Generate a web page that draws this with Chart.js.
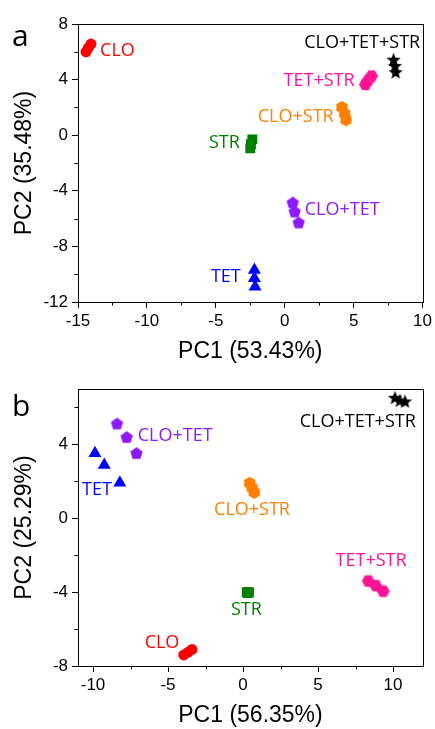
<!DOCTYPE html>
<html>
<head>
<meta charset="utf-8">
<script src="https://cdn.jsdelivr.net/npm/chart.js@4/dist/chart.umd.min.js"></script>
<style>
  body { margin: 0; background: #fff; width: 435px; height: 729px; position: relative; overflow: hidden; }
  .wrap { position: absolute; left: 0; width: 435px; }
  .tag { position: absolute; left: 12px; font-family: "Open Sans"; font-size: 30px; line-height: 1; color: #000; }
</style>
</head>
<body>
<div class="wrap" style="top:0;height:365px"><canvas id="chartA" width="435" height="365"></canvas></div>
<div class="wrap" style="top:365px;height:364px"><canvas id="chartB" width="435" height="364"></canvas></div>
<div class="tag" style="top:20px">a</div>
<div class="tag" style="top:390px">b</div>
<script>
// ---- panel a : score points (PC1, PC2) ----
const aCLO = [{x: -14.42, y: 6.0}, {x: -14.25, y: 6.28}, {x: -14.06, y: 6.56}];
const aSTR = [{x: -2.35, y: -0.3}, {x: -2.45, y: -0.65}, {x: -2.5, y: -0.95}];
const aTET = [{x: -2.2, y: -9.7}, {x: -2.2, y: -10.3}, {x: -2.15, y: -10.9}];
const aCLOSTR = [{x: 4.15, y: 2.0}, {x: 4.35, y: 1.55}, {x: 4.45, y: 1.1}];
const aCLOTET = [{x: 0.58, y: -4.88}, {x: 0.72, y: -5.53}, {x: 1.01, y: -6.32}];
const aTETSTR = [{x: 5.85, y: 3.65}, {x: 6.05, y: 3.95}, {x: 6.3, y: 4.25}];
const aALL = [{x: 7.9, y: 5.4}, {x: 8.0, y: 4.95}, {x: 8.05, y: 4.5}];

// ---- panel b ----
const bCLO = [{x: -3.95, y: -7.4}, {x: -3.65, y: -7.25}, {x: -3.4, y: -7.1}];
const bSTR = [{x: 0.25, y: -4.0}, {x: 0.33, y: -4.05}, {x: 0.4, y: -4.0}];
const bTET = [{x: -9.87, y: 3.52}, {x: -9.25, y: 2.88}, {x: -8.21, y: 1.92}];
const bCLOSTR = [{x: 0.45, y: 1.9}, {x: 0.6, y: 1.65}, {x: 0.75, y: 1.4}];
const bCLOTET = [{x: -8.4, y: 5.1}, {x: -7.75, y: 4.37}, {x: -7.1, y: 3.5}];
const bTETSTR = [{x: 8.35, y: -3.4}, {x: 8.85, y: -3.65}, {x: 9.35, y: -3.95}];
const bALL = [{x: 10.13, y: 6.5}, {x: 10.46, y: 6.35}, {x: 10.8, y: 6.3}];

// group names and label anchors (data units)
const groupNames = ['CLO', 'STR', 'TET', 'CLO+STR', 'CLO+TET', 'TET+STR', 'CLO+TET+STR'];
const aLabelX = [-13.4, -3.26, -3.19, 3.55, 1.45, 5.07, 5.62];
const aLabelY = [6.1, -0.56, -10.2, 1.3, -5.4, 3.9, 6.63];
const aLabelAlign = ['left', 'right', 'right', 'right', 'left', 'right', 'center'];
const bLabelX = [-5.4, 0.23, -10.73, 0.6, -7.02, 8.54, 11.52];
const bLabelY = [-6.77, -4.96, 1.55, 0.45, 4.48, -2.32, 5.2];
const bLabelAlign = ['center', 'center', 'left', 'center', 'left', 'center', 'right'];

// axes
const aXRange = [-15, 10];
const aYRange = [-12, 8];
const aXTicks = [-15, -10, -5, 0, 5, 10];
const aYTicks = [-12, -8, -4, 0, 4, 8];
const aXMinor = [-12.5, -7.5, -2.5, 2.5, 7.5];
const aYMinor = [-10, -6, -2, 2, 6];
const bXRange = [-11, 12];
const bYRange = [-8, 7];
const bXTicks = [-10, -5, 0, 5, 10];
const bYTicks = [-8, -4, 0, 4];
const bXMinor = [-7.5, -2.5, 2.5, 7.5];
const bYMinor = [-6, -2, 2, 6];

const colors = ['#ff0000', '#008000', '#0000ff', '#ff8000', '#8c1aff', '#ff1493', '#000000'];

// custom marker images
function polyImg(color, sides, r, rot, inner) {
  const c = document.createElement('canvas');
  const s = Math.ceil(r * 2 + 2);
  c.width = s; c.height = s;
  const g = c.getContext('2d');
  g.fillStyle = color;
  g.beginPath();
  const n = inner ? sides * 2 : sides;
  for (let i = 0; i < n; i++) {
    const rr = inner && i % 2 ? inner : r;
    const a = rot + i * Math.PI * 2 / n;
    const px = s / 2 + rr * Math.sin(a);
    const py = s / 2 - rr * Math.cos(a);
    if (i === 0) g.moveTo(px, py); else g.lineTo(px, py);
  }
  g.closePath();
  g.fill();
  return c;
}

const styles = [
  {pointStyle: 'circle', radius: 5.5},
  {pointStyle: 'rect', radius: 7},
  {pointStyle: 'triangle', radius: 7.5},
  {pointStyle: polyImg(colors[3], 6, 6.5, 0), radius: 6},
  {pointStyle: polyImg(colors[4], 5, 6.5, 0), radius: 6},
  {pointStyle: polyImg(colors[5], 6, 6.5, Math.PI / 6), radius: 6},
  {pointStyle: polyImg(colors[6], 5, 7.5, 0, 3.2), radius: 6}
];

const framePlugin = {
  id: 'frame',
  afterDraw(chart, args, opts) {
    const {ctx, chartArea: ca, scales} = chart;
    ctx.save();
    ctx.strokeStyle = '#000';
    ctx.lineWidth = 1;
    ctx.strokeRect(Math.round(ca.left) + 0.5, Math.round(ca.top) + 0.5,
      Math.round(ca.right - ca.left), Math.round(ca.bottom - ca.top));
    ctx.beginPath();
    opts.xMinor.forEach(v => {
      const px = Math.round(scales.x.getPixelForValue(v)) + 0.5;
      ctx.moveTo(px, ca.bottom); ctx.lineTo(px, ca.bottom + 3.5);
    });
    opts.yMinor.forEach(v => {
      const py = Math.round(scales.y.getPixelForValue(v)) + 0.5;
      ctx.moveTo(ca.left, py); ctx.lineTo(ca.left - 3.5, py);
    });
    ctx.stroke();
    ctx.restore();
  }
};

const labelPlugin = {
  id: 'groupLabels',
  afterDatasetsDraw(chart, args, opts) {
    const {ctx, scales} = chart;
    ctx.save();
    ctx.font = '18px "Open Sans"';
    ctx.textBaseline = 'middle';
    groupNames.forEach((name, i) => {
      ctx.fillStyle = colors[i];
      ctx.textAlign = opts.align[i];
      ctx.fillText(name, scales.x.getPixelForValue(opts.lx[i]), scales.y.getPixelForValue(opts.ly[i]));
    });
    ctx.restore();
  }
};

function makeChart(id, series, p) {
  const datasets = series.map((pts, i) => ({
    label: groupNames[i],
    data: pts,
    backgroundColor: colors[i],
    borderColor: colors[i],
    borderWidth: 0,
    pointStyle: styles[i].pointStyle,
    pointRadius: styles[i].radius,
    pointHoverRadius: styles[i].radius
  }));
  const tickFont = {family: '"Liberation Sans", Arial', size: 17};
  const titleFont = {family: '"Liberation Sans", Arial', size: 23};
  return new Chart(document.getElementById(id), {
    type: 'scatter',
    data: {datasets},
    options: {
      responsive: false,
      animation: false,
      layout: {padding: {left: 0, top: 24, right: 12, bottom: 0}},
      plugins: {
        legend: {display: false},
        tooltip: {enabled: false},
        frame: {xMinor: p.xMinor, yMinor: p.yMinor},
        groupLabels: {lx: p.lx, ly: p.ly, align: p.align}
      },
      scales: {
        x: {
          type: 'linear', min: p.xRange[0], max: p.xRange[1],
          afterBuildTicks: s => { s.ticks = p.xTicks.map(v => ({value: v})); },
          afterFit: s => { s.height = 63; },
          grid: {drawOnChartArea: false, tickLength: 6, color: '#000'},
          border: {color: '#000'},
          ticks: {font: tickFont, color: '#000', padding: 3, maxRotation: 0, autoSkip: false},
          title: {display: true, text: p.xTitle, font: titleFont, color: '#000', padding: {top: 0, bottom: 0}}
        },
        y: {
          type: 'linear', min: p.yRange[0], max: p.yRange[1],
          afterBuildTicks: s => { s.ticks = p.yTicks.map(v => ({value: v})); },
          afterFit: s => { s.width = 78; },
          grid: {drawOnChartArea: false, tickLength: 6, color: '#000'},
          border: {color: '#000'},
          ticks: {font: tickFont, color: '#000', padding: 4, autoSkip: false},
          title: {display: true, text: p.yTitle, font: titleFont, color: '#000', padding: {top: 11, bottom: 0}}
        }
      }
    },
    plugins: [framePlugin, labelPlugin]
  });
}

makeChart('chartA', [aCLO, aSTR, aTET, aCLOSTR, aCLOTET, aTETSTR, aALL], {
  xRange: aXRange, yRange: aYRange, xTicks: aXTicks, yTicks: aYTicks,
  xMinor: aXMinor, yMinor: aYMinor,
  lx: aLabelX, ly: aLabelY, align: aLabelAlign,
  xTitle: 'PC1 (53.43%)', yTitle: 'PC2 (35.48%)'
});

makeChart('chartB', [bCLO, bSTR, bTET, bCLOSTR, bCLOTET, bTETSTR, bALL], {
  xRange: bXRange, yRange: bYRange, xTicks: bXTicks, yTicks: bYTicks,
  xMinor: bXMinor, yMinor: bYMinor,
  lx: bLabelX, ly: bLabelY, align: bLabelAlign,
  xTitle: 'PC1 (56.35%)', yTitle: 'PC2 (25.29%)'
});
</script>
</body>
</html>
